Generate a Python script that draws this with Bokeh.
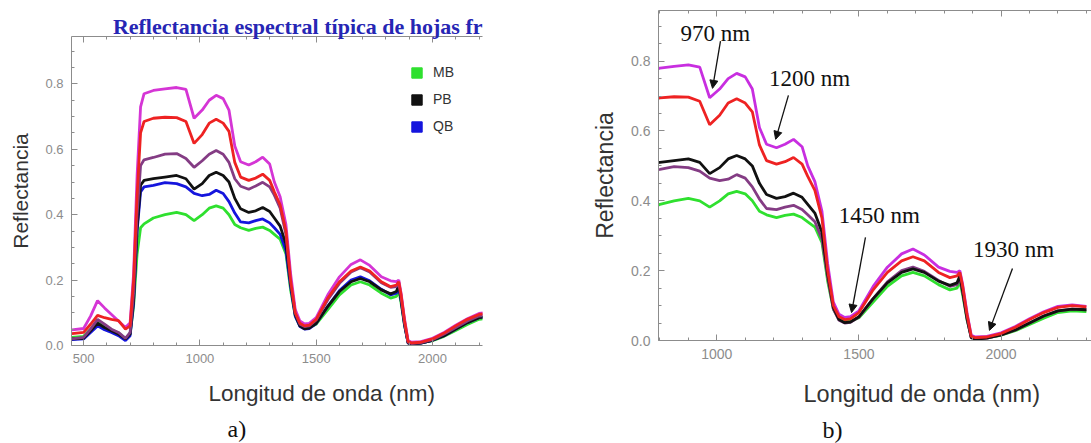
from jinja2 import Template
from bokeh.plotting import figure
from bokeh.models import (Range1d, LinearAxis, Legend, LegendItem, Arrow, Title,
                          NormalHead, Label, SingleIntervalTicker, NumeralTickFormatter,
                          CustomJSTickFormatter)
from bokeh.embed import file_html
from bokeh.resources import INLINE

# ---------------- data ----------------
WL = [450, 500, 530, 560, 590, 620, 650, 680, 700, 715,
      730, 745, 760, 800, 850, 900, 940, 975, 1010, 1040,
      1070, 1100, 1125, 1150, 1175, 1210, 1240, 1270, 1300, 1320,
      1345, 1370, 1390, 1410, 1430, 1450, 1470, 1500, 1550, 1600,
      1650, 1690, 1730, 1780, 1820, 1845, 1855, 1865, 1880, 1895,
      1910, 1950, 2000, 2050, 2100, 2150, 2200, 2250, 2300]

MB = [0.025, 0.028, 0.05, 0.075, 0.06, 0.048, 0.038, 0.022, 0.035, 0.12,
      0.28, 0.36, 0.372, 0.39, 0.40, 0.407, 0.40, 0.382, 0.40, 0.42,
      0.427, 0.42, 0.40, 0.37, 0.36, 0.352, 0.358, 0.362, 0.352, 0.34,
      0.325, 0.28, 0.17, 0.09, 0.06, 0.055, 0.055, 0.065, 0.11, 0.155,
      0.185, 0.195, 0.185, 0.16, 0.145, 0.15, 0.17, 0.13, 0.06, 0.01,
      0.006, 0.008, 0.015, 0.028, 0.046, 0.064, 0.08, 0.085, 0.083]

PB = [0.02, 0.022, 0.045, 0.068, 0.055, 0.045, 0.035, 0.02, 0.035, 0.14,
      0.36, 0.49, 0.505, 0.51, 0.515, 0.52, 0.51, 0.478, 0.495, 0.52,
      0.53, 0.52, 0.50, 0.45, 0.418, 0.407, 0.412, 0.422, 0.41, 0.39,
      0.365, 0.31, 0.19, 0.095, 0.06, 0.051, 0.053, 0.068, 0.12, 0.165,
      0.195, 0.205, 0.195, 0.17, 0.158, 0.165, 0.185, 0.14, 0.065, 0.008,
      0.004, 0.007, 0.016, 0.03, 0.05, 0.07, 0.085, 0.09, 0.088]

QB = [0.018, 0.02, 0.04, 0.06, 0.048, 0.04, 0.03, 0.015, 0.03, 0.13,
      0.35, 0.47, 0.485, 0.49, 0.498, 0.495, 0.485, 0.465, 0.458, 0.462,
      0.475, 0.465, 0.44, 0.405, 0.378, 0.375, 0.382, 0.387, 0.375, 0.36,
      0.34, 0.29, 0.18, 0.09, 0.058, 0.05, 0.052, 0.067, 0.12, 0.168,
      0.20, 0.21, 0.198, 0.172, 0.155, 0.16, 0.18, 0.138, 0.062, 0.008,
      0.004, 0.007, 0.016, 0.03, 0.05, 0.07, 0.085, 0.09, 0.088]

S4 = [0.02, 0.025, 0.05, 0.08, 0.065, 0.05, 0.04, 0.022, 0.04, 0.16,
      0.40, 0.55, 0.568, 0.575, 0.585, 0.587, 0.572, 0.545, 0.565, 0.585,
      0.596, 0.585, 0.56, 0.51, 0.487, 0.478, 0.488, 0.499, 0.485, 0.46,
      0.42, 0.34, 0.20, 0.10, 0.065, 0.058, 0.06, 0.078, 0.14, 0.19,
      0.225, 0.238, 0.225, 0.192, 0.178, 0.18, 0.192, 0.15, 0.07, 0.01,
      0.006, 0.009, 0.018, 0.035, 0.055, 0.075, 0.09, 0.095, 0.092]

S5 = [0.048, 0.052, 0.09, 0.137, 0.115, 0.095, 0.075, 0.055, 0.07, 0.22,
      0.52, 0.73, 0.77, 0.78, 0.785, 0.789, 0.783, 0.695, 0.72, 0.75,
      0.765, 0.755, 0.72, 0.61, 0.562, 0.552, 0.562, 0.576, 0.555, 0.50,
      0.455, 0.37, 0.22, 0.11, 0.075, 0.066, 0.068, 0.085, 0.155, 0.21,
      0.248, 0.262, 0.245, 0.21, 0.198, 0.195, 0.20, 0.16, 0.08, 0.015,
      0.01, 0.012, 0.022, 0.04, 0.062, 0.082, 0.098, 0.102, 0.098]

S6 = [0.036, 0.04, 0.065, 0.092, 0.085, 0.08, 0.076, 0.05, 0.06, 0.20,
      0.46, 0.65, 0.685, 0.695, 0.698, 0.697, 0.685, 0.618, 0.645, 0.68,
      0.692, 0.68, 0.655, 0.56, 0.515, 0.505, 0.512, 0.524, 0.505, 0.47,
      0.43, 0.35, 0.20, 0.10, 0.068, 0.06, 0.062, 0.08, 0.145, 0.195,
      0.228, 0.24, 0.228, 0.195, 0.18, 0.185, 0.195, 0.155, 0.075, 0.012,
      0.008, 0.01, 0.02, 0.038, 0.06, 0.08, 0.095, 0.10, 0.096]

LEGEND_LABELS = ["MB", "PB", "QB"]
TITLE_A = "Reflectancia espectral típica de hojas fr"
XLABEL = "Longitud de onda (nm)"
YLABEL = "Reflectancia"

# annotations of panel b: text, text x, text y, arrow tail x, y, arrow head x, y
ANNOT = [("970 nm", 995, 0.880, 1013, 0.857, 985, 0.722),
         ("1200 nm", 1326, 0.751, 1252, 0.702, 1207, 0.576),
         ("1450 nm", 1572, 0.358, 1523, 0.295, 1474, 0.080),
         ("1930 nm", 2044, 0.261, 2040, 0.206, 1959, 0.029)]

C_GREEN = "#2fe02f"
C_BLACK = "#111111"
C_BLUE = "#1515dd"
C_PURPLE = "#843c84"
C_MAGENTA = "#d535d5"
C_MAGENTA_B = "#c82ee0"
C_RED = "#ee2222"

AX = "#8c8c8c"
SANS = "Liberation Sans"
SERIF = "Liberation Serif"
NAN = float("nan")
LW = 2.8

PAGE = Template("""<!DOCTYPE html>
<html lang="en">
  <head>
    <meta charset="utf-8">
    <title>{{ title }}</title>
    <style>
      html, body { margin: 0; padding: 0; }
      body { display: flex; flex-direction: row; align-items: flex-start; }
    </style>
    {{ bokeh_css }}
    {{ bokeh_js }}
  </head>
  <body>
    {{ plot_div }}
    {{ plot_script }}
  </body>
</html>
""")


def style(p, tick_px, label_px):
    for ax in p.xaxis + p.yaxis:
        ax.axis_line_color = AX
        ax.major_tick_line_color = AX
        ax.minor_tick_line_color = AX
        ax.major_tick_in = 6
        ax.major_tick_out = 0
        ax.minor_tick_in = 3
        ax.minor_tick_out = 0
        ax.major_label_text_font = SANS
        ax.major_label_text_font_size = tick_px
        ax.major_label_text_color = AX
        ax.major_label_standoff = 8
    p.yaxis.axis_label = YLABEL
    p.yaxis.axis_label_text_font = SANS
    p.yaxis.axis_label_text_font_style = "normal"
    p.yaxis.axis_label_text_font_size = label_px
    p.yaxis.axis_label_text_color = "#333333"
    p.yaxis.axis_label_standoff = 10
    p.xgrid.visible = False
    p.ygrid.visible = False
    p.outline_line_color = None


def make(xr, width, bl, br, bt, bb, tick_px, label_px):
    p = figure(width=width, height=443, x_range=xr, y_range=Range1d(0, 0.945),
               output_backend="svg", toolbar_location=None,
               min_border_left=bl, min_border_right=br, min_border_top=bt,
               min_border_bottom=bb)
    p.xaxis.ticker = SingleIntervalTicker(interval=500, num_minor_ticks=5)
    p.yaxis.ticker = SingleIntervalTicker(interval=0.2, num_minor_ticks=4)
    p.yaxis.formatter = NumeralTickFormatter(format="0.0")
    style(p, tick_px, label_px)
    top = LinearAxis(ticker=SingleIntervalTicker(interval=500, num_minor_ticks=5),
                     formatter=CustomJSTickFormatter(code="return ''"),
                     major_label_standoff=0, axis_line_color=AX,
                     major_tick_line_color=AX, minor_tick_line_color=AX,
                     major_tick_in=6, major_tick_out=0, minor_tick_in=3, minor_tick_out=0,
                     major_label_text_font_size="1px")
    p.add_layout(top, "above")
    return p


def bottom_titles(p, off_label, s1, size1, off_letter, s2, letter):
    p.add_layout(Title(text=XLABEL, align="left", offset=off_label,
                       text_font=SANS, text_font_style="normal",
                       text_font_size=size1, text_color="#333333", standoff=s1), "below")
    p.add_layout(Title(text=letter, align="left", offset=off_letter,
                       text_font=SERIF, text_font_style="normal",
                       text_font_size="24px", text_color="#111111", standoff=s2), "below")


# ---------------- panel a ----------------
pa = make(Range1d(448, 2215), 585, 71, 103, 36, 98, "13px", "21px")
pa.title.text = TITLE_A
pa.title.align = "right"
pa.title.text_font = SERIF
pa.title.text_font_style = "bold"
pa.title.text_font_size = "22px"
pa.title.text_color = "#2626b4"
pa.title.standoff = -4

series_a = [(MB, C_GREEN), (QB, C_BLUE), (PB, C_BLACK), (S4, C_PURPLE),
            (S5, C_MAGENTA), (S6, C_RED)]
for ys, c in series_a:
    pa.line(WL, ys, line_color=c, line_width=LW)

items = []
for lab, c in zip(LEGEND_LABELS, [C_GREEN, C_BLACK, C_BLUE]):
    r = pa.quad(left=[NAN], right=[NAN], top=[NAN], bottom=[NAN],
                fill_color=c, line_color=c)
    items.append(LegendItem(label=lab, renderers=[r]))
leg = Legend(items=items, location=(339, 211), glyph_width=13, glyph_height=13,
             label_height=13, spacing=11, padding=5, label_standoff=10,
             label_text_font=SANS, label_text_font_size="14px",
             label_text_color="#333333", border_line_color=None,
             background_fill_color="white", background_fill_alpha=1.0)
pa.add_layout(leg, "center")
bottom_titles(pa, 137, 26, "22.5px", 156, -10, "a)")

# ---------------- panel b ----------------
pb = make(Range1d(795, 2318), 506, 73, 0, 10, 103, "14px", "23px")
series_b = [(MB, C_GREEN), (QB, C_PURPLE), (PB, C_BLACK), (S5, C_MAGENTA_B), (S6, C_RED)]
for ys, c in series_b:
    pb.line(WL, ys, line_color=c, line_width=LW)

for txt, tx, ty, x0, y0, x1, y1 in ANNOT:
    pb.add_layout(Label(x=tx, y=ty, text=txt, text_font=SERIF, text_font_size="23px",
                        text_align="center", text_baseline="middle", text_color="#111111"))
    pb.add_layout(Arrow(end=NormalHead(size=8, fill_color="#111111", line_color="#111111"),
                        x_start=x0, y_start=y0, x_end=x1, y_end=y1,
                        line_color="#111111", line_width=1.3))
bottom_titles(pb, 145, 34, "23.5px", 164, -18, "b)")

open("out.html", "w").write(file_html([pa, pb], INLINE, template=PAGE))
